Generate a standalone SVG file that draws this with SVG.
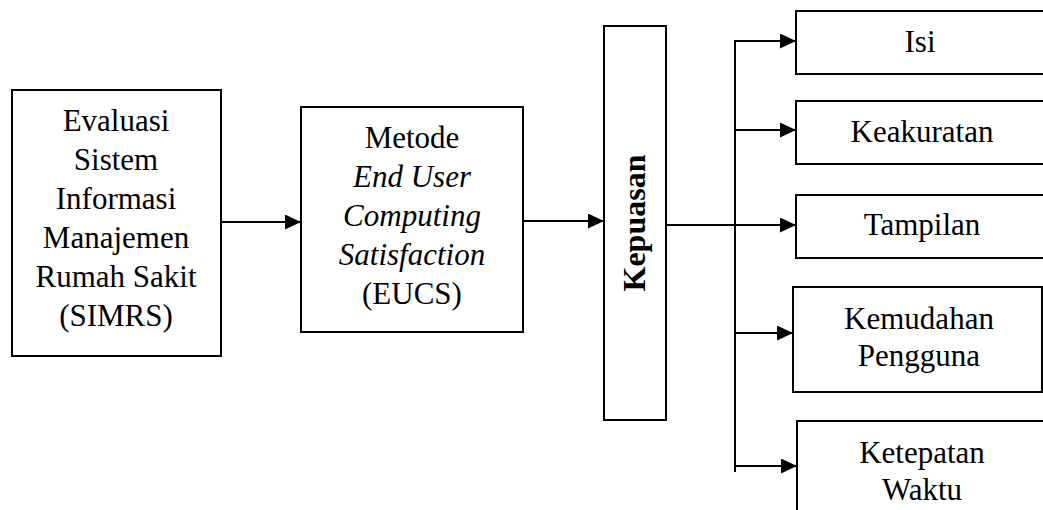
<svg xmlns="http://www.w3.org/2000/svg" width="1043" height="510" viewBox="0 0 1043 510">
<style>
.box{fill:#fff;stroke:#000;stroke-width:2}
.c{fill:none;stroke:#000;stroke-width:2}
</style>
<defs>
<marker id="ah" markerUnits="userSpaceOnUse" markerWidth="16" markerHeight="15" refX="16" refY="7.5" orient="auto">
<path d="M0,0 L16,7.5 L0,15 z" fill="#000"/>
</marker>
</defs>
<rect width="1043" height="510" fill="#fff"/>
<g id="connectors">
<line class="c" x1="221" y1="222" x2="301" y2="222" marker-end="url(#ah)"/>
<line class="c" x1="523" y1="221" x2="604" y2="221" marker-end="url(#ah)"/>
<line class="c" x1="666" y1="225" x2="796" y2="225" marker-end="url(#ah)"/>
<line class="c" x1="735" y1="40" x2="735" y2="472"/>
<line class="c" x1="734" y1="41" x2="796" y2="41" marker-end="url(#ah)"/>
<line class="c" x1="735" y1="130" x2="796" y2="130" marker-end="url(#ah)"/>
<line class="c" x1="735" y1="333" x2="793" y2="333" marker-end="url(#ah)"/>
<line class="c" x1="735" y1="466" x2="797" y2="466" marker-end="url(#ah)"/>
</g>
<g id="evaluasi" font-size="31" text-anchor="middle">
<rect class="box" x="12" y="90" width="209" height="266"/>
<text x="116" y="131" font-family="Times New Roman">Evaluasi</text>
<text x="116" y="170" font-family="Times New Roman">Sistem</text>
<text x="116" y="209" font-family="Times New Roman">Informasi</text>
<text x="116" y="248" font-family="Times New Roman">Manajemen</text>
<text x="116" y="287" font-family="Times New Roman">Rumah Sakit</text>
<text x="116" y="326" font-family="Times New Roman">(SIMRS)</text>
</g>
<g id="metode" font-size="31" text-anchor="middle">
<rect class="box" x="301" y="107" width="222" height="225"/>
<text x="412" y="148" font-family="Times New Roman">Metode</text>
<text x="412" y="187" font-family="Times New Roman" font-style="italic">End User</text>
<text x="412" y="226" font-family="Times New Roman" font-style="italic">Computing</text>
<text x="412" y="265" font-family="Times New Roman" font-style="italic">Satisfaction</text>
<text x="412" y="304" font-family="Times New Roman">(EUCS)</text>
</g>
<g id="kepuasan" font-size="32" text-anchor="middle">
<rect class="box" x="604" y="26" width="62" height="394"/>
<text transform="translate(645,223) rotate(-90)" font-family="Times New Roman" font-weight="bold">Kepuasan</text>
</g>
<g id="isi" font-size="31" text-anchor="middle">
<rect class="box" x="796" y="11" width="260" height="63"/>
<text x="920" y="52" font-family="Times New Roman">Isi</text>
</g>
<g id="keakuratan" font-size="31" text-anchor="middle">
<rect class="box" x="796" y="101" width="260" height="63"/>
<text x="922" y="142" font-family="Times New Roman">Keakuratan</text>
</g>
<g id="tampilan" font-size="31" text-anchor="middle">
<rect class="box" x="796" y="195" width="260" height="63"/>
<text x="922" y="235" font-family="Times New Roman">Tampilan</text>
</g>
<g id="kemudahan" font-size="31" text-anchor="middle">
<rect class="box" x="793" y="287" width="249" height="105"/>
<text x="919" y="329" font-family="Times New Roman">Kemudahan</text>
<text x="919" y="366" font-family="Times New Roman">Pengguna</text>
</g>
<g id="ketepatan" font-size="31" text-anchor="middle">
<rect class="box" x="797" y="421" width="260" height="120"/>
<text x="922" y="463" font-family="Times New Roman">Ketepatan</text>
<text x="922" y="500" font-family="Times New Roman">Waktu</text>
</g>
</svg>
